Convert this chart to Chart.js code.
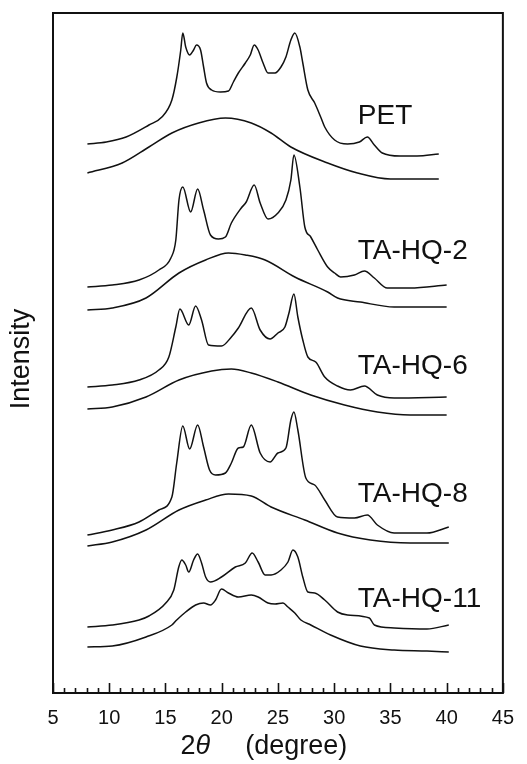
<!DOCTYPE html>
<html>
<head>
<meta charset="utf-8">
<script src="https://cdn.jsdelivr.net/npm/chart.js@4.4.1/dist/chart.umd.min.js"></script>
<style>
  html, body { margin: 0; padding: 0; background: #fff; }
  #wrap { width: 527px; height: 764px; position: relative; }
</style>
</head>
<body>
<div id="wrap"><canvas id="xrd"></canvas></div>
<script>
// Wide-angle X-ray diffraction patterns, stacked.
// Each pair is [2θ (degree), intensity (a.u., stacked offset included)].
// For every sample: upper trace = annealed (crystalline), lower trace = quenched (amorphous).

const samples = ['PET', 'TA-HQ-2', 'TA-HQ-6', 'TA-HQ-8', 'TA-HQ-11'];

const petCryst = [[8.06,549],[9.74,551],[11.5,556],[13.53,568],[14.68,576],[15.57,593],[16.01,616],[16.36,643],[16.54,660],[16.8,646],[17.15,638],[17.5,643],[17.76,648],[18.12,643],[18.39,626],[18.65,610],[19.1,603],[19.89,601],[20.6,602],[21.04,611],[21.48,620],[22.1,630],[22.54,638],[22.89,648],[23.24,643],[23.68,630],[24.12,620],[24.74,620],[25.27,626],[25.71,636],[26.15,653],[26.5,660],[26.95,646],[27.21,630],[27.66,603],[28.27,590],[28.8,576],[29.16,566],[30.04,553],[31.19,549],[32.24,551],[32.95,556],[33.57,548],[34.28,540],[35.86,537],[37.36,537],[39.3,539]];
const petAmorph = [[8.06,520],[11.15,530],[13.53,546],[15.57,560],[17.95,570],[20.33,575],[22.63,570],[24.39,560],[26.15,546],[29.42,530],[32.07,520],[35.0,514],[39.3,514]];

const hq2Cryst = [[8.06,406],[10.27,408],[12.65,413],[14.41,423],[15.48,435],[15.92,453],[16.2,493],[16.54,506],[17.24,481],[17.86,504],[18.39,483],[19.0,458],[19.71,454],[20.33,456],[20.86,470],[21.74,485],[22.18,491],[22.89,508],[23.42,490],[24.12,474],[25.0,480],[25.71,493],[26.15,513],[26.42,538],[26.95,506],[27.39,466],[27.92,456],[28.54,443],[29.42,426],[30.04,420],[30.57,416],[31.8,418],[32.69,422],[33.57,415],[34.72,405],[36.75,405],[40.0,408]];
const hq2Amorph = [[8.06,383],[10.27,385],[13.27,395],[16.2,420],[18.57,433],[20.6,440],[22.1,438],[23.86,433],[26.5,416],[29.42,401],[30.3,395],[32.33,391],[35.33,386],[40.0,386]];

const hq6Cryst = [[8.06,306],[10.27,308],[12.65,313],[14.41,323],[15.3,336],[15.92,366],[16.28,384],[17.07,368],[17.68,387],[18.21,373],[18.83,348],[19.98,347],[20.86,356],[21.48,365],[22.63,385],[23.42,363],[24.3,354],[25.0,360],[25.62,366],[25.98,380],[26.42,399],[26.77,376],[27.21,353],[27.66,336],[28.36,331],[29.16,316],[30.3,307],[31.45,303],[32.69,307],[33.84,298],[35.33,295],[40.0,296]];
const hq6Amorph = [[8.06,284],[10.27,286],[13.27,296],[16.2,313],[19.1,322],[20.86,324],[22.63,320],[25.0,311],[27.92,298],[30.92,288],[33.84,281],[36.75,278],[40.0,278]];

const hq8Cryst = [[8.06,158],[10.27,163],[12.65,171],[14.41,183],[15.57,196],[16.0,230],[16.54,267],[17.15,244],[17.86,268],[18.39,246],[18.92,223],[19.45,218],[20.33,220],[20.86,230],[21.48,245],[21.92,246],[22.63,268],[23.42,240],[24.3,231],[25.0,240],[25.71,245],[26.15,273],[26.42,281],[26.77,263],[27.48,215],[28.27,208],[29.16,193],[30.3,176],[31.8,175],[32.95,178],[33.84,168],[35.33,160],[38.25,160],[40.19,166]];
const hq8Amorph = [[8.06,147],[10.27,151],[13.27,163],[16.2,183],[18.57,193],[20.6,199],[22.63,197],[24.39,186],[27.39,173],[30.3,160],[33.22,153],[36.75,150],[40.19,150]];

const hq11Cryst = [[8.06,66],[10.27,68],[12.65,73],[13.53,77],[15.03,90],[15.74,103],[16.18,126],[16.45,133],[16.8,128],[17.07,121],[17.5,133],[17.86,139],[18.21,130],[18.57,116],[19.0,111],[19.98,116],[21.21,126],[22.1,130],[22.71,140],[23.24,131],[23.86,118],[24.39,118],[25.27,123],[25.89,131],[26.33,143],[26.77,136],[27.21,116],[27.66,101],[28.27,100],[29.16,93],[30.3,81],[31.19,78],[33.13,75],[33.57,68],[35.33,65],[38.25,64],[40.19,68]];
const hq11Amorph = [[8.06,46],[10.27,47],[13.27,56],[15.57,68],[16.0,73],[16.8,81],[17.68,88],[18.39,90],[19.0,88],[19.45,93],[19.98,104],[20.6,100],[21.48,96],[22.63,98],[23.24,96],[24.12,90],[24.74,89],[25.45,90],[25.89,86],[26.5,80],[27.04,73],[27.92,68],[29.68,58],[32.33,47],[35.33,43],[38.25,42],[40.19,41]];

const traces = [petCryst, petAmorph, hq2Cryst, hq2Amorph, hq6Cryst, hq6Amorph, hq8Cryst, hq8Amorph, hq11Cryst, hq11Amorph];

// x axis tick values (labelled every 5°, minor marks every 1°)
const xMin = 5, xMax = 45, xMajorStep = 5, xMinorStep = 1;

// where each sample name sits, in data coordinates [2θ, intensity of baseline]
const sampleLabelAnchors = [[32.1, 569], [32.1, 434], [32.1, 319], [32.1, 191], [32.1, 86]];

const FONT = "'Liberation Sans', Arial, Helvetica, sans-serif";
const INK = '#111';

const framePlugin = {
  id: 'frameAndTicks',
  afterDraw(chart) {
    const { ctx, chartArea: a, scales: { x, y } } = chart;
    ctx.save();
    // plot frame
    ctx.strokeStyle = INK;
    ctx.lineWidth = 2;
    ctx.strokeRect(a.left, a.top, a.right - a.left, a.bottom - a.top);
    // inward tick marks along the bottom edge
    ctx.lineWidth = 1.6;
    for (let v = xMin; v <= xMax; v += xMinorStep) {
      const px = Math.round(x.getPixelForValue(v)) + 0.5;
      const len = (v % xMajorStep === 0) ? 10 : 5;
      ctx.beginPath();
      ctx.moveTo(px, a.bottom);
      ctx.lineTo(px, a.bottom - len);
      ctx.stroke();
    }
    ctx.fillStyle = INK;
    // sample names
    ctx.font = '28px ' + FONT;
    ctx.textAlign = 'left';
    ctx.textBaseline = 'alphabetic';
    samples.forEach((name, i) => {
      const [ax, ay] = sampleLabelAnchors[i];
      ctx.fillText(name, x.getPixelForValue(ax), y.getPixelForValue(ay));
    });
    // y axis title
    ctx.save();
    ctx.translate(22, (a.top + a.bottom) / 2 + 6);
    ctx.rotate(-Math.PI / 2);
    ctx.textAlign = 'center';
    ctx.textBaseline = 'middle';
    ctx.font = '27px ' + FONT;
    ctx.fillText('Intensity', 0, 0);
    ctx.restore();
    // x axis title: 2θ    (degree)
    const base = a.bottom + 61;
    const cx = (a.left + a.right) / 2 - 14;
    ctx.font = '27px ' + FONT;
    const w2 = ctx.measureText('2').width;
    const wDeg = ctx.measureText('(degree)').width;
    ctx.font = 'italic 27px ' + FONT;
    const wTh = ctx.measureText('θ').width;
    const gap = 35;
    let sx = cx - (w2 + wTh + gap + wDeg) / 2;
    ctx.font = '27px ' + FONT;
    ctx.fillText('2', sx, base);
    sx += w2;
    ctx.font = 'italic 27px ' + FONT;
    ctx.fillText('θ', sx, base);
    sx += wTh + gap;
    ctx.font = '27px ' + FONT;
    ctx.fillText('(degree)', sx, base);
    ctx.restore();
  }
};

new Chart(document.getElementById('xrd'), {
  type: 'line',
  data: {
    datasets: traces.map(t => ({
      data: t.map(([a, i]) => ({ x: a, y: i })),
      borderColor: INK,
      borderWidth: 1.5,
      pointRadius: 0,
      cubicInterpolationMode: 'monotone',
      fill: false
    }))
  },
  options: {
    responsive: true,
    maintainAspectRatio: false,
    animation: false,
    events: [],
    layout: { padding: { top: 13, right: 19, left: 0, bottom: 0 } },
    plugins: { legend: { display: false }, tooltip: { enabled: false } },
    scales: {
      x: {
        type: 'linear',
        min: xMin, max: xMax,
        grid: { display: false, drawTicks: false },
        border: { display: false },
        ticks: { stepSize: xMajorStep, color: INK, padding: 13, maxRotation: 0, font: { family: FONT, size: 20 } },
        afterFit(s) { s.height = 71; }
      },
      y: {
        min: 0, max: 680,
        grid: { display: false, drawTicks: false },
        border: { display: false },
        ticks: { display: false },
        afterFit(s) { s.width = 53; }
      }
    }
  },
  plugins: [framePlugin]
});
</script>
</body>
</html>
